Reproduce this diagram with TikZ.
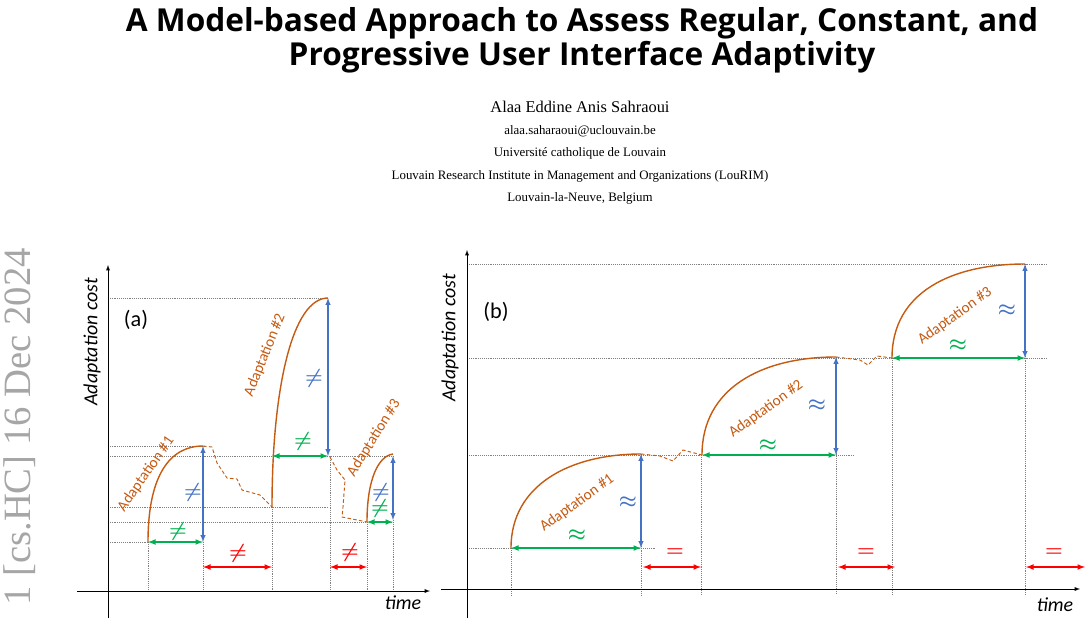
\documentclass[tikz,border=0pt]{standalone}
\usepackage{fontspec}
\setmainfont{Liberation Serif}
\newfontfamily\titlefont{Open Sans}
\newfontfamily\figfont{Carlito}
\usepackage{tikz}
\definecolor{adapt}{HTML}{C55A11}
\definecolor{vblue}{HTML}{4472C4}
\definecolor{hgreen}{HTML}{00B050}
\definecolor{gred}{HTML}{FF0000}

\begin{document}
\begin{tikzpicture}[x=0.03cm,y=-0.03cm,
guide/.style={densely dotted,gray,line width=0.6pt},
axis/.style={-latex,line width=0.6pt},
curve/.style={adapt,line width=1.2pt},
wiggle/.style={adapt,densely dashed,line width=0.8pt},
vcost/.style={latex-latex,vblue,line width=1pt},
hcost/.style={latex-latex,hgreen,line width=1.2pt},
gap/.style={latex-latex,gred,line width=1.2pt},
sym/.style={font=\boldmath\fontsize{16}{16}\selectfont},
lbl/.style={adapt,font=\figfont\fontsize{13}{13}\selectfont}
]
\useasboundingbox (0,0) rectangle (1092,644);

% header
\node[font=\titlefont\bfseries\fontsize{27}{29}\selectfont,align=center] (title) at (582,40)
  {A Model-based Approach to Assess Regular, Constant, and\\Progressive User Interface Adaptivity};
\node[font=\fontsize{14}{14}\selectfont] (author) at (580,107) {Alaa Eddine Anis Sahraoui};
\node[font=\fontsize{11}{19.3}\selectfont,align=center,anchor=north] (affil) at (580,121)
  {alaa.saharaoui@uclouvain.be\\Université catholique de Louvain\\Louvain Research Institute in Management and Organizations (LouRIM)\\Louvain-la-Neuve, Belgium};
\node[gray!70,rotate=90,anchor=east,font=\fontsize{33}{33}\selectfont] (stamp) at (20,244) {1 [cs.HC] 16 Dec 2024};

% ---------- (a)
\draw[guide] (108,298) -- (328,298);
\draw[guide] (108,446) -- (205,446);
\draw[guide] (108,456) -- (393,456);
\draw[guide] (108,507) -- (328,507);
\draw[guide] (108,522) -- (393,522);
\draw[guide] (108,542) -- (148,542);
\foreach \x/\y in {148/542,203/542,272/507,330/456,367/522,393/520}
  \draw[guide] (\x,\y) -- (\x,591);

\draw[axis] (108,618) -- (108,265);
\draw[axis] (77,591) -- (430,591);
\node[font=\figfont\itshape\fontsize{17}{17}\selectfont,rotate=90] (ya) at (92,342) {Adaptation cost};
\node[font=\figfont\itshape\fontsize{17}{17}\selectfont] (xa) at (403,603) {time};
\node[font=\figfont\fontsize{19}{19}\selectfont] (pa) at (136,320) {(a)};

\coordinate (a1s) at (148,542); \coordinate (a1e) at (203,446);
\coordinate (a2s) at (272,507); \coordinate (a2e) at (328,298);
\coordinate (a3s) at (367,522); \coordinate (a3e) at (393,454);
\draw[curve] (a1s) .. controls (148,475) and (170,446) .. (a1e);
\draw[curve] (a2s) .. controls (272,390) and (292,298) .. (a2e);
\draw[curve] (a3s) .. controls (367,480) and (378,456) .. (a3e);
\draw[wiggle] (a1e) -- (212,447) -- (217,463) -- (227,478) -- (237,479) -- (242,490)
  -- (260,495) -- (a2s);
\draw[wiggle] (330,457) -- (337,470) -- (345,480) -- (343,507) -- (342,517) -- (a3s);

\draw[vcost] (203,542) -- (a1e);
\draw[vcost] (a2e) -- (328,456);
\draw[vcost] (393,456) -- (393,520);
\draw[hcost] (a1s) -- (203,542);
\draw[hcost] (272,456) -- (328,456);
\draw[hcost] (a3s) -- (393,522);
\draw[gap] (203,567) -- (272,567);
\draw[gap] (330,567) -- (367,567);

\node[sym,hgreen] (ga1) at (178,531) {$\neq$};
\node[sym,vblue] (ba1) at (193,492) {$\neq$};
\node[sym,gred] (ra1) at (238,553) {$\neq$};
\node[sym,vblue] (ba2) at (314,378) {$\neq$};
\node[sym,hgreen] (ga2) at (303,441) {$\neq$};
\node[sym,gred] (ra2) at (350,552) {$\neq$};
\node[sym,vblue] (ba3) at (381,492) {$\neq$};
\node[sym,hgreen] (ga3) at (380,508) {$\neq$};

\node[lbl,rotate=55] (la1) at (146,474) {Adaptation \#1};
\node[lbl,rotate=68] (la2) at (265,355) {Adaptation \#2};
\node[lbl,rotate=58] (la3) at (374,438) {Adaptation \#3};

% ---------- (b)
\draw[guide] (467,264) -- (1047,264);
\draw[guide] (467,358) -- (1047,358);
\draw[guide] (467,455) -- (855,455);
\draw[guide] (467,548) -- (655,548);
\foreach \x/\y in {511/548,641/454,701/455,836/357,892/358,1025/264}
  \draw[guide] (\x,\y) -- (\x,595);

\draw[axis] (467,618) -- (467,250);
\draw[axis] (441,589) -- (1080,589);
\node[font=\figfont\itshape\fontsize{17}{17}\selectfont,rotate=90] (yb) at (450,338) {Adaptation cost};
\node[font=\figfont\itshape\fontsize{17}{17}\selectfont] (xb) at (1055,605) {time};
\node[font=\figfont\fontsize{19}{19}\selectfont] (pb) at (496,312) {(b)};

\coordinate (b1s) at (511,548); \coordinate (b1e) at (641,454);
\coordinate (b2s) at (702,455); \coordinate (b2e) at (836,357);
\coordinate (b3s) at (892,358); \coordinate (b3e) at (1025,264);
\draw[curve] (b1s) .. controls (511,485) and (570,454) .. (b1e);
\draw[curve] (b2s) .. controls (702,388) and (762,357) .. (b2e);
\draw[curve] (b3s) .. controls (892,292) and (952,264) .. (b3e);
\draw[wiggle] (b1e) -- (660,456) -- (673,461) -- (683,450) -- (b2s);
\draw[wiggle] (b2e) -- (860,360) -- (868,365) -- (877,356) -- (b3s);

\draw[vcost] (641,548) -- (b1e);
\draw[vcost] (836,455) -- (b2e);
\draw[vcost] (1025,358) -- (b3e);
\draw[hcost] (b1s) -- (641,548);
\draw[hcost] (b2s) -- (836,455);
\draw[hcost] (b3s) -- (1025,358);
\draw[gap] (643,567) -- (701,567);
\draw[gap] (838,567) -- (895,567);
\draw[gap] (1026,567) -- (1085,567);

\node[sym,vblue] (bb1) at (628,502) {$\approx$};
\node[sym,hgreen] (gb1) at (577,535) {$\approx$};
\node[sym,gred] (rb1) at (675,553) {$=$};
\node[sym,vblue] (bb2) at (817,405) {$\approx$};
\node[sym,hgreen] (gb2) at (768,445) {$\approx$};
\node[sym,gred] (rb2) at (866,553) {$=$};
\node[sym,vblue] (bb3) at (1007,310) {$\approx$};
\node[sym,hgreen] (gb3) at (958,345) {$\approx$};
\node[sym,gred] (rb3) at (1054,553) {$=$};

\node[lbl,rotate=36] (lb1) at (577,503) {Adaptation \#1};
\node[lbl,rotate=36] (lb2) at (766,409) {Adaptation \#2};
\node[lbl,rotate=36] (lb3) at (955,316) {Adaptation \#3};
\end{tikzpicture}
\end{document}
